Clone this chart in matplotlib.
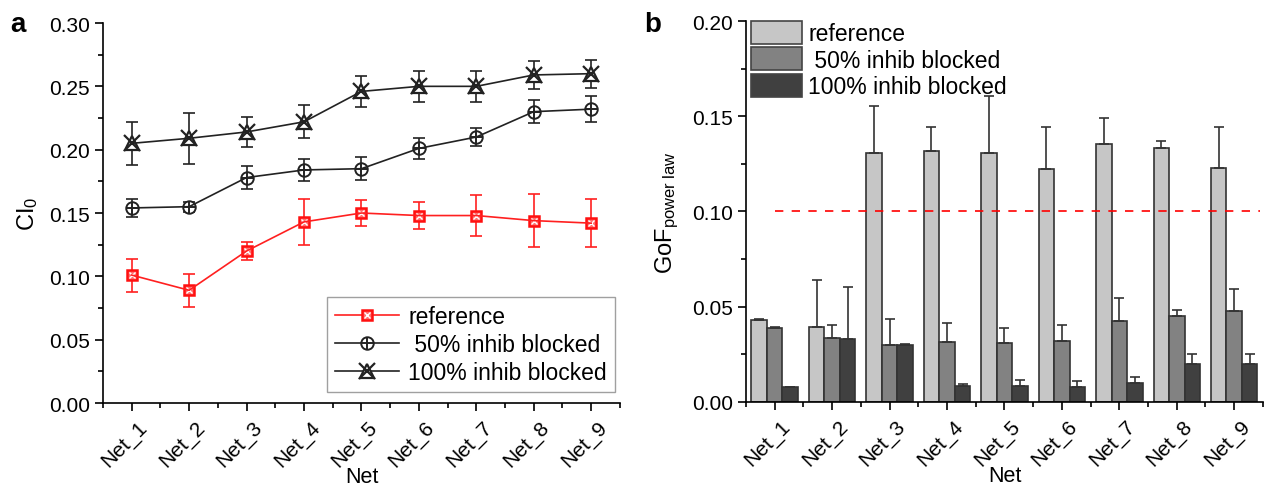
import numpy as np
import matplotlib
matplotlib.use('Agg')
import matplotlib.pyplot as plt
from matplotlib.ticker import MultipleLocator, FormatStrFormatter
from matplotlib.patches import Patch
from matplotlib.transforms import ScaledTranslation

plt.rcParams['font.family'] = ['Liberation Sans', 'DejaVu Sans']
plt.rcParams['mathtext.fontset'] = 'custom'
plt.rcParams['mathtext.rm'] = 'Liberation Sans'
plt.rcParams['mathtext.it'] = 'Liberation Sans'

nets = ['Net_1', 'Net_2', 'Net_3', 'Net_4', 'Net_5', 'Net_6', 'Net_7', 'Net_8', 'Net_9']
series_names = ['reference', ' 50% inhib blocked', '100% inhib blocked']

# panel a: CI0 per network
ci_ref = [0.101, 0.089, 0.120, 0.143, 0.150, 0.148, 0.148, 0.144, 0.142]
ci_ref_err = [0.013, 0.013, 0.007, 0.018, 0.010, 0.011, 0.016, 0.021, 0.019]
ci_50 = [0.154, 0.155, 0.178, 0.184, 0.185, 0.201, 0.210, 0.230, 0.232]
ci_50_err = [0.007, 0.004, 0.009, 0.009, 0.009, 0.008, 0.007, 0.009, 0.010]
ci_100 = [0.205, 0.209, 0.214, 0.222, 0.246, 0.250, 0.250, 0.259, 0.260]
ci_100_err = [0.017, 0.020, 0.012, 0.013, 0.012, 0.012, 0.012, 0.011, 0.011]

# panel b: goodness of fit to power law
gof_ref = [0.0432, 0.0392, 0.1305, 0.1319, 0.1307, 0.1222, 0.1354, 0.1335, 0.1227]
gof_ref_err = [0.0005, 0.0248, 0.0250, 0.0125, 0.0299, 0.0223, 0.0137, 0.0035, 0.0215]
gof_50 = [0.0387, 0.0334, 0.0299, 0.0317, 0.0308, 0.0320, 0.0424, 0.0450, 0.0478]
gof_50_err = [0.0005, 0.0072, 0.0137, 0.0096, 0.0079, 0.0082, 0.0122, 0.0035, 0.0114]
gof_100 = [0.0077, 0.0332, 0.0301, 0.0086, 0.0086, 0.0080, 0.0100, 0.0198, 0.0198]
gof_100_err = [0.0004, 0.0273, 0.0004, 0.0010, 0.0029, 0.0028, 0.0030, 0.0054, 0.0054]
gof_threshold = 0.10

FS = 15
x = np.arange(1, len(nets) + 1)

fig = plt.figure(figsize=(12.68, 4.89), dpi=100)
ax1 = fig.add_axes([0.0812, 0.1738, 0.4077, 0.7771])
ax2 = fig.add_axes([0.5883, 0.1759, 0.4077, 0.7791])


def style_axis(ax, ymax):
    for side in ['top', 'right']:
        ax.spines[side].set_visible(False)
    for side in ['left', 'bottom']:
        ax.spines[side].set_linewidth(1.2)
    ax.set_xlim(0.5, 9.5)
    ax.set_ylim(0, ymax)
    ax.xaxis.set_major_locator(MultipleLocator(1))
    ax.xaxis.set_minor_locator(MultipleLocator(0.5))
    ax.yaxis.set_major_locator(MultipleLocator(0.05))
    ax.yaxis.set_minor_locator(MultipleLocator(0.025))
    ax.tick_params(which='major', direction='out', length=6, width=1.2, labelsize=FS)
    ax.tick_params(which='minor', direction='out', length=3.5, width=1.2)
    ax.tick_params(axis='x', which='major', labelsize=FS, pad=4)
    ax.yaxis.set_major_formatter(FormatStrFormatter('%.2f'))
    ax.set_xticks(x)
    ax.set_xticklabels(nets, rotation=45, ha='right', rotation_mode='anchor')
    shift = ScaledTranslation(6 / 100, 0, fig.dpi_scale_trans)
    for lbl in ax.get_xticklabels():
        lbl.set_transform(lbl.get_transform() + shift)
    ax.set_xlabel('Net', fontsize=FS + 0.5, va='baseline')
    ax.xaxis.set_label_coords(0.5, -0.208)


# ---- panel a ----
style_axis(ax1, 0.30)
ekw = dict(capsize=4, elinewidth=1.2, capthick=1.2)
ax1.errorbar(x, ci_ref, yerr=ci_ref_err, color='#ff2020', lw=1.2, **ekw)
ax1.errorbar(x, ci_50, yerr=ci_50_err, color='#222222', lw=1.2, **ekw)
ax1.errorbar(x, ci_100, yerr=ci_100_err, color='#222222', lw=1.2, **ekw)

h_ref = (ax1.plot(x, ci_ref, ls='none', marker='s', ms=7, mfc='#ff7070', mec='#ff1010', mew=1.8)[0],
         ax1.plot(x, ci_ref, ls='none', marker='x', ms=4, mec='white', mew=1.0)[0])
h_50 = (ax1.plot(x, ci_50, ls='none', marker='o', ms=9, mfc='white', mec='#222222', mew=1.4)[0],
        ax1.plot(x, ci_50, ls='none', marker='+', ms=9, mec='#222222', mew=1.4)[0])
h_100 = (ax1.plot(x, ci_100, ls='none', marker='^', ms=10, mfc='white', mec='#222222', mew=1.6)[0],
         ax1.plot(x, ci_100, ls='none', marker='x', ms=12, mec='#222222', mew=1.6)[0])

line_ref = plt.Line2D([], [], color='#ff2020', lw=1.2)
line_blk = plt.Line2D([], [], color='#222222', lw=1.2)
leg1 = ax1.legend([(line_ref,) + h_ref, (line_blk,) + h_50, (line_blk,) + h_100], series_names,
                  loc='lower right', bbox_to_anchor=(0.99, 0.03), borderaxespad=0,
                  fontsize=FS + 1.5, frameon=True, fancybox=False, edgecolor='#888888',
                  handlelength=2.8, labelspacing=0.2, borderpad=0.35, handletextpad=0.4)
leg1.get_frame().set_linewidth(1.0)
ax1.set_ylabel('CI$_\\mathrm{0}$', fontsize=FS + 2, labelpad=6)
fig.text(0.008, 0.975, 'a', fontsize=FS + 5, fontweight='bold', va='top')

# ---- panel b ----
style_axis(ax2, 0.20)
bw = 0.27
colors = ['#c6c6c6', '#828282', '#404040']
vals = [gof_ref, gof_50, gof_100]
errs = [gof_ref_err, gof_50_err, gof_100_err]
for i in range(3):
    ax2.bar(x + (i - 1) * bw, vals[i], width=bw, color=colors[i], edgecolor='#333333', lw=1.2,
            yerr=[np.zeros(len(nets)), errs[i]], capsize=3.5,
            error_kw=dict(ecolor='#333333', elinewidth=1.2, capthick=1.2), zorder=2)
ax2.hlines(gof_threshold, 1, 9.45, colors='red', linestyles=(0, (5, 5)), lw=1.2, zorder=3)

handles2 = [Patch(facecolor=c, edgecolor='#444444', lw=1.2) for c in colors]
ax2.legend(handles2, series_names, loc='upper left', bbox_to_anchor=(0.01, 1.0), borderaxespad=0,
           fontsize=FS + 1.5, frameon=False, handlelength=2.2, handleheight=1.15,
           labelspacing=0.1, handletextpad=0.3, borderpad=0)
ax2.set_ylabel('GoF$_\\mathrm{power\\ law}$', fontsize=FS + 2, labelpad=8)
fig.text(0.508, 0.975, 'b', fontsize=FS + 5, fontweight='bold', va='top')

fig.savefig('out.png', dpi=100)
